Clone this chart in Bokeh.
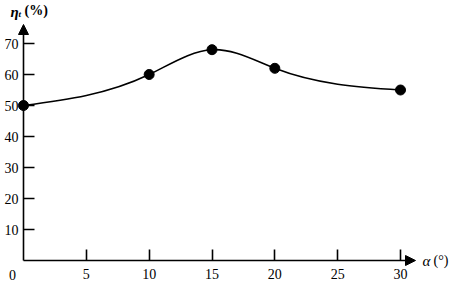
import numpy as np
from bokeh.plotting import figure
from bokeh.models import (Range1d, FixedTicker, Arrow, NormalHead, Label,
                          ColumnDataSource)
from bokeh.embed import file_html
from bokeh.resources import INLINE

# ---- data ----
alpha = [0, 10, 15, 20, 30]
eta = [50, 60, 68, 62, 55]
x_ticks = [5, 10, 15, 20, 25, 30]
y_ticks = [10, 20, 30, 40, 50, 60, 70]
origin_label = "0"

# ---- natural cubic spline -> bezier segments ----
x = np.array(alpha, dtype=float)
y = np.array(eta, dtype=float)
n = len(x)
h = np.diff(x)
s = np.diff(y) / h
A = np.zeros((n, n))
b = np.zeros(n)
A[0, 0] = 1
A[-1, -1] = 1
for i in range(1, n - 1):
    A[i, i - 1] = h[i - 1]
    A[i, i] = 2 * (h[i - 1] + h[i])
    A[i, i + 1] = h[i]
    b[i] = 6 * (s[i] - s[i - 1])
M = np.linalg.solve(A, b)
dl = s - h * (2 * M[:-1] + M[1:]) / 6   # slope at left end of each segment
dr = s + h * (M[:-1] + 2 * M[1:]) / 6   # slope at right end
bez = ColumnDataSource(dict(
    x0=x[:-1], y0=y[:-1], x1=x[1:], y1=y[1:],
    cx0=x[:-1] + h / 3, cy0=y[:-1] + dl * h / 3,
    cx1=x[1:] - h / 3, cy1=y[1:] - dr * h / 3,
))

# ---- figure geometry ----
W, H = 449, 281
ox, oy = 23, 260       # origin position in figure pixels
px_x = (400 - ox) / 30.0
px_y = (oy - 43) / 70.0
x0r = -ox / px_x
x1r = (W - ox) / px_x
y0r = -(H - oy) / px_y
y1r = oy / px_y

p = figure(width=W, height=H, output_backend="svg", toolbar_location=None,
           x_range=Range1d(x0r, x1r), y_range=Range1d(y0r, y1r),
           min_border=0, outline_line_color=None)
p.grid.visible = False

FONT = "Liberation Serif"
for ax in (p.xaxis[0], p.yaxis[0]):
    ax.fixed_location = 0
    ax.axis_line_color = None
    ax.major_tick_in = 11
    ax.major_tick_out = 0
    ax.minor_tick_line_color = None
    ax.major_tick_line_width = 1.6
    ax.major_tick_line_color = "black"
    ax.major_label_text_font = FONT
    ax.major_label_text_font_size = "14px"
    ax.major_label_text_color = "black"
p.xaxis[0].ticker = FixedTicker(ticks=x_ticks)
p.yaxis[0].ticker = FixedTicker(ticks=y_ticks)
p.xaxis[0].major_label_standoff = 8
p.yaxis[0].major_label_standoff = 5

# axes lines with arrow heads
x_tip = 30 + 15 / px_x
y_tip = 70 + 19 / px_y
p.add_layout(Arrow(end=NormalHead(size=10, fill_color="black", line_color="black"),
                   x_start=0, y_start=0, x_end=x_tip, y_end=0,
                   line_width=1.6, line_color="black"))
p.add_layout(Arrow(end=NormalHead(size=10, fill_color="black", line_color="black"),
                   x_start=0, y_start=0, x_end=0, y_end=y_tip,
                   line_width=1.6, line_color="black"))

# curve and markers
p.bezier(x0="x0", y0="y0", x1="x1", y1="y1", cx0="cx0", cy0="cy0",
         cx1="cx1", cy1="cy1", source=bez, line_color="black", line_width=1.6)
p.scatter(alpha, eta, size=10, fill_color="black", line_color="black")

# labels
p.add_layout(Label(x=0, y=0, text=origin_label, x_offset=-11, y_offset=-14,
                   text_align="center", text_baseline="middle",
                   text_font=FONT, text_font_size="14px", text_color="black"))
p.add_layout(Label(x=x_tip, y=0, text="α", x_offset=7, y_offset=0,
                   text_align="left", text_baseline="middle",
                   text_font=FONT, text_font_style="italic",
                   text_font_size="15px", text_color="black"))
p.add_layout(Label(x=x_tip, y=0, text="(°)", x_offset=18, y_offset=0,
                   text_align="left", text_baseline="middle",
                   text_font=FONT, text_font_size="14px", text_color="black"))
p.add_layout(Label(x=0, y=y_tip, text="η", x_offset=-13, y_offset=13,
                   text_align="left", text_baseline="middle",
                   text_font=FONT, text_font_style="bold italic",
                   text_font_size="15px", text_color="black"))
p.add_layout(Label(x=0, y=y_tip, text="t", x_offset=-5, y_offset=11,
                   text_align="left", text_baseline="middle",
                   text_font=FONT, text_font_style="bold italic",
                   text_font_size="9px", text_color="black"))
p.add_layout(Label(x=0, y=y_tip, text="(%)", x_offset=1, y_offset=14,
                   text_align="left", text_baseline="middle",
                   text_font=FONT, text_font_style="bold",
                   text_font_size="14px", text_color="black"))

open("out.html", "w").write(file_html(p, INLINE))
